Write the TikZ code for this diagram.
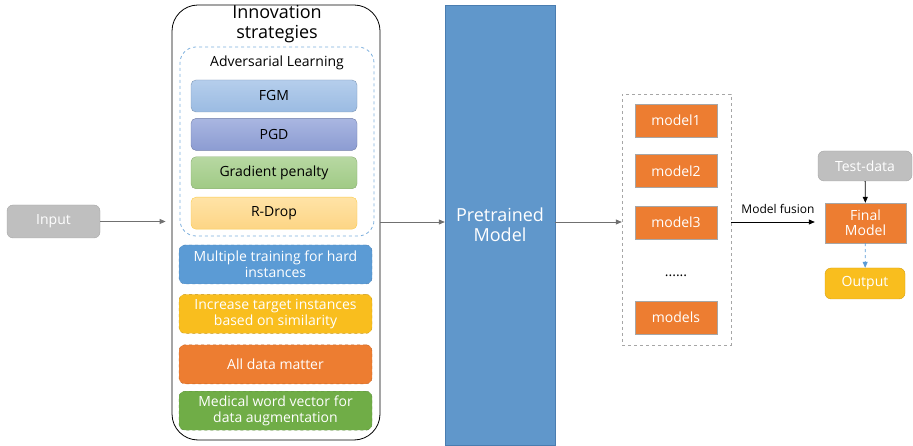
\documentclass[tikz,border=0pt]{standalone}
\usepackage{fontspec}
\setmainfont{Open Sans}
\usetikzlibrary{arrows.meta, positioning}
\definecolor{grey}{HTML}{BFBFBF}
\definecolor{greyline}{HTML}{A6A6A6}
\definecolor{steel}{HTML}{5B9BD5}
\definecolor{steelline}{HTML}{4A7DB0}
\definecolor{preblue}{HTML}{6097CB}
\definecolor{orng}{HTML}{ED7D31}
\definecolor{yell}{HTML}{F9BE1E}
\definecolor{leaf}{HTML}{70AD47}
\definecolor{fgmTop}{HTML}{B5CEEC}
\definecolor{fgmBot}{HTML}{9BBBE2}
\definecolor{pgdTop}{HTML}{A9B6E1}
\definecolor{pgdBot}{HTML}{8C9CD2}
\definecolor{gpTop}{HTML}{B7D8A2}
\definecolor{gpBot}{HTML}{A0CA85}
\definecolor{rdTop}{HTML}{FFE3A6}
\definecolor{rdBot}{HTML}{FDD585}
\definecolor{arrowgrey}{HTML}{707070}
\tikzset{
  txt/.style = {font=\fontsize{14}{16}\selectfont},
  greyBox/.style = {rectangle, rounded corners=6pt, draw=greyline, fill=grey,
    text=white, txt},
  advBox/.style = {rectangle, rounded corners=5pt, minimum width=166pt,
    minimum height=32pt, txt},
  stratBox/.style = {rectangle, rounded corners=6pt, dashed, text=white,
    minimum width=193pt, minimum height=39pt, txt},
  modelBox/.style = {rectangle, draw=greyline, fill=orng, text=white,
    minimum width=82pt, minimum height=33pt, txt},
  ok/.style = {-{Triangle[length=6pt, width=5pt]}, draw=arrowgrey, thick},
  okBlack/.style = {-{Triangle[length=6pt, width=5pt]}, draw=black, thick},
  okBlue/.style = {-{Triangle[length=6pt, width=5pt]}, draw=steel, thick, dashed},
}
\begin{document}
\begin{tikzpicture}[x=1pt, y=-1pt, every node/.style={align=center}]
\useasboundingbox (0,0) rectangle (913,446);
% input and strategies
\node[greyBox, minimum width=93pt, minimum height=33pt] (in) at (53.5,221.5) {Input};
\node[rectangle, rounded corners=26pt, draw=black, thick, minimum width=208pt,
  minimum height=435pt] (inno) at (276,222.5) {};
\node[font=\fontsize{18}{20}\selectfont, anchor=north] (title) at (277,2) {Innovation\\strategies};
\node[rectangle, rounded corners=16pt, draw=steel!80, dashed, thick, minimum width=194pt,
  minimum height=189pt] (adv) at (277,141.5) {};
\node[txt] (advT) at (277,63) {Adversarial Learning};
\node[advBox, draw=fgmBot!80!black, top color=fgmTop, bottom color=fgmBot] (fgm) at (274,96) {FGM};
\node[advBox, draw=pgdBot!80!black, top color=pgdTop, bottom color=pgdBot, below=6pt of fgm] (pgd) {PGD};
\node[advBox, draw=gpBot!85!black, top color=gpTop, bottom color=gpBot, below=6pt of pgd] (gp) {Gradient penalty};
\node[advBox, draw=yell!80, top color=rdTop, bottom color=rdBot, below=8pt of gp] (rd) {R-Drop};
\node[stratBox, draw=steelline, fill=steel] (hard) at (275.5,264.5) {Multiple training for hard\\instances};
\node[stratBox, draw=yell!80!black, fill=yell, below=10pt of hard] (sim) {Increase target instances\\based on similarity};
\node[stratBox, draw=orng!80!black, fill=orng, below=11pt of sim] (all) {All data matter};
\node[stratBox, draw=leaf!80!black, fill=leaf, below=7pt of all] (med) {Medical word vector for\\data augmentation};
% pretrained model
\node[rectangle, draw=steelline, fill=preblue, text=white, minimum width=110pt,
  minimum height=440pt, font=\fontsize{18}{20}\selectfont] (pre) at (500,225) {Pretrained\\Model};
% models
\node[rectangle, draw=greyline, dashed, minimum width=109pt, minimum height=251pt] (grp) at (676.5,219.5) {};
\node[modelBox] (m1) at (676,120.5) {model1};
\node[modelBox, below=17pt of m1] (m2) {model2};
\node[modelBox, below=18pt of m2] (m3) {model3};
\node[modelBox, below=62pt of m3] (ms) {models};
\node[txt] (dots) at (676,276) {......};
% fusion
\node[modelBox, minimum width=81pt, minimum height=40pt, font=\fontsize{14}{15}\selectfont] (fin) at (865.5,223) {Final\\Model};
\node[greyBox, minimum width=94pt, minimum height=30pt] (test) at (865,166) {Test-data};
\node[rectangle, rounded corners=6pt, draw=yell!85!black, fill=yell, text=white,
  minimum width=80pt, minimum height=31pt, txt] (out) at (865,283.5) {Output};

\draw[ok, shorten >=6pt] (in.east) -- (in.east -| inno.west);
\draw[ok] (inno.east |- 0,222) -- (pre.west |- 0,222);
\draw[ok] (pre.east |- 0,222) -- (grp.west |- 0,222);
\draw[okBlack, shorten >=10pt] (grp.east |- 0,222) -- node[above=5pt, font=\fontsize{12}{14}\selectfont]{Model fusion} (fin.west |- 0,222);
\draw[okBlack] (test) -- (fin);
\draw[okBlue] (fin) -- (out);
\end{tikzpicture}
\end{document}
